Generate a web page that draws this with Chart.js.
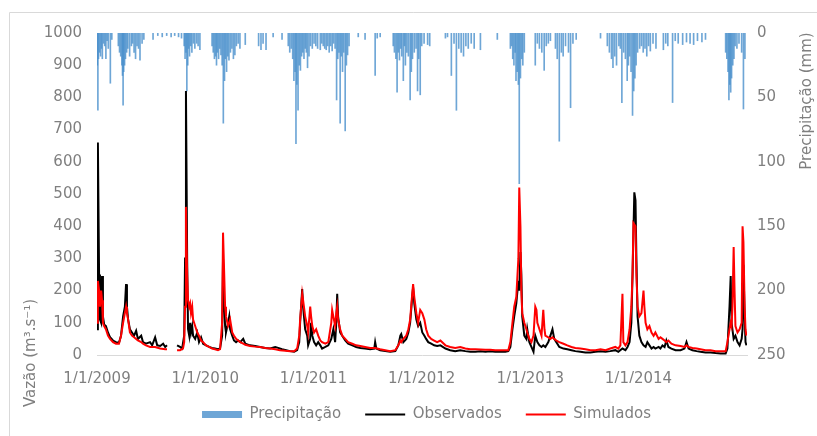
<!DOCTYPE html>
<html>
<head>
<meta charset="utf-8">
<script src="https://cdn.jsdelivr.net/npm/chart.js@4.4.1/dist/chart.umd.min.js"></script>
<style>
  html, body { margin: 0; padding: 0; background: #fff; }
  #wrap { position: relative; width: 817px; height: 436px; }
</style>
</head>
<body>
<div id="wrap"><canvas id="mycanvas" width="817" height="436"></canvas></div>
<script>
// days counted from 1/1/2009
var tickDays = [0, 365, 730, 1095, 1461, 1826];
var tickLabels = ["1/1/2009", "1/1/2010", "1/1/2011", "1/1/2012", "1/1/2013", "1/1/2014"];

var obsDays = [0,3,7,10,14,17,20,24,30,37,44,54,64,74,81,88,94,98,101,105,111,118,125,132,138,149,155,165,179,186,196,203,213,223,230,236,240,
  270,280,287,294,297,300,304,307,311,314,317,321,324,331,338,344,351,358,368,378,388,398,408,415,422,425,429,432,435,442,446,449,456,462,469,476,483,493,500,
  516,533,550,567,584,601,611,624,638,651,665,675,682,685,692,695,702,709,712,719,722,726,732,739,746,753,759,770,780,790,797,803,807,810,813,820,827,837,847,
  861,874,888,904,921,935,938,942,955,972,989,1006,1016,1023,1026,1033,1043,1050,1056,1063,1066,1070,1077,1083,1090,1097,1104,1110,1117,1127,1137,1147,1158,
  1175,1191,1208,1225,1242,1259,1276,1293,1310,1326,1343,1360,1377,1387,1394,1401,1407,1414,1421,1424,1428,1431,1434,1441,1448,1451,1458,1465,1472,1478,1485,
  1492,1499,1505,1512,1522,1529,1536,1542,1549,1559,1573,1586,1600,1613,1630,1647,1664,1681,1698,1715,1731,1748,1758,1772,1782,1789,1796,1802,1806,1812,1816,
  1819,1823,1829,1836,1843,1850,1856,1863,1870,1877,1883,1894,1900,1907,1914,1920,1927,1937,1951,1968,1981,1988,1995,2008,2022,2035,2052,2069,2086,2103,2120,
  2126,2133,2137,2140,2147,2153,2160,2167,2174,2177,2180,2184,2187,2190];
var obsFlow = [80,660,250,110,100,245,120,95,90,70,55,45,40,38,60,120,150,220,150,110,80,70,60,75,50,60,40,35,40,30,55,30,28,35,25,30,null,
  30,25,20,60,300,820,300,80,60,100,70,90,60,50,70,40,55,35,30,25,22,20,18,20,60,300,150,90,70,100,120,80,60,45,40,45,40,50,35,
  30,28,25,22,20,25,22,18,15,12,10,15,40,100,205,150,80,60,30,50,100,60,40,30,40,30,20,25,30,50,80,40,100,190,120,70,60,45,35,
  30,25,22,20,18,20,40,20,15,12,10,12,30,60,65,40,50,70,100,180,210,160,110,90,100,70,60,50,40,35,30,28,30,
  20,15,12,15,12,10,10,12,10,12,10,10,10,12,25,80,120,160,230,200,320,250,120,60,50,80,40,25,10,60,40,
  30,25,30,25,40,60,80,50,40,25,20,18,15,12,10,8,8,10,12,10,12,15,10,20,15,25,40,100,250,505,480,
  300,120,60,40,30,25,40,30,20,25,20,25,20,30,25,45,25,20,15,15,20,40,20,15,12,10,8,8,6,5,5,
  20,150,245,100,50,60,40,30,50,80,280,120,40,30];

var simDays = [0,3,7,10,14,17,20,24,30,37,44,54,64,74,81,88,94,98,101,105,111,118,125,132,138,149,155,165,179,196,213,230,236,240,
  270,280,290,294,297,300,304,307,311,314,317,321,324,331,338,344,351,358,368,378,388,398,408,415,422,425,429,432,435,442,446,449,456,462,469,476,483,493,500,
  516,533,550,567,584,601,617,635,651,665,675,682,685,692,695,702,709,712,719,722,726,732,739,746,753,759,770,780,790,793,797,803,807,810,813,820,827,837,847,
  861,874,888,904,921,938,955,972,989,1006,1016,1023,1026,1033,1043,1050,1056,1063,1066,1070,1077,1083,1090,1097,1104,1110,1117,1127,1137,1147,1158,
  1175,1191,1208,1225,1242,1259,1276,1293,1310,1326,1343,1360,1377,1387,1394,1401,1407,1414,1421,1424,1428,1431,1434,1441,1448,1451,1458,1465,1472,1478,1482,
  1485,1492,1499,1505,1509,1512,1522,1529,1536,1542,1549,1559,1573,1586,1600,1613,1630,1647,1664,1681,1698,1715,1731,1748,1758,1765,1772,1775,1782,1789,1796,
  1802,1806,1809,1816,1819,1823,1829,1836,1843,1846,1850,1856,1863,1870,1877,1883,1894,1900,1907,1914,1920,1927,1937,1951,1968,1981,1988,1995,2008,2022,2035,
  2052,2069,2086,2103,2120,2126,2133,2137,2140,2143,2147,2150,2153,2160,2167,2174,2177,2180,2184,2187,2190];
var simFlow = [100,230,200,150,200,170,100,90,80,60,50,40,35,35,60,100,130,150,130,110,70,60,55,50,45,40,35,30,25,25,20,18,18,null,
  15,15,20,40,150,460,250,170,150,160,130,150,110,90,70,60,45,40,30,25,20,18,15,18,100,380,250,150,120,90,100,110,70,60,50,45,40,35,32,
  28,26,25,22,20,18,15,13,12,12,20,60,110,190,170,120,90,70,150,120,90,70,80,60,45,40,35,40,100,140,120,90,130,150,110,80,60,50,40,
  35,30,28,25,22,22,18,15,12,15,30,45,40,50,60,80,110,190,220,180,130,100,140,130,110,80,60,50,45,40,45,
  30,25,22,25,20,18,18,17,16,16,15,15,15,15,40,100,150,180,300,520,400,200,130,100,80,70,50,40,60,150,140,
  100,80,60,140,80,60,55,50,55,50,45,40,35,30,25,22,20,18,15,15,18,15,20,25,20,30,190,40,30,40,80,
  150,250,410,400,250,150,120,130,200,150,100,80,90,70,60,70,50,55,50,45,40,45,35,30,28,25,30,25,22,20,18,
  15,15,12,12,12,40,80,100,90,150,335,200,90,70,80,100,400,350,150,80,60];

var precipDays = [1,3,5,8,12,15,18,22,26,30,34,38,45,50,
  72,76,80,84,86,88,90,93,96,100,104,110,116,120,125,130,135,140,145,152,158,
  189,205,220,235,250,262,275,285,
  294,297,300,303,306,309,312,316,320,325,330,336,341,347,
  388,392,396,400,403,406,410,414,418,422,426,430,433,437,441,445,450,455,460,465,470,476,482,
  500,545,553,560,570,594,624,
  645,650,655,660,664,668,671,674,678,682,686,690,694,698,702,706,710,715,720,726,732,738,744,
  753,758,763,768,773,778,783,788,793,798,803,808,812,816,820,824,828,832,837,841,845,850,
  881,904,938,945,955,
  999,1003,1008,1012,1016,1020,1024,1028,1033,1037,1040,1045,1050,1056,1060,1064,1070,1076,1081,1085,1090,1095,1103,1115,1122,
  1175,1182,1195,1204,1212,1220,1228,1236,1244,1252,1262,1272,1293,1350,
  1394,1398,1402,1406,1410,1413,1417,1421,1424,1428,1432,1436,1441,
  1478,1485,1492,1500,1508,1515,1522,1529,
  1546,1552,1559,1566,1572,1580,1590,1597,1605,1616,1698,
  1721,1728,1735,1740,1746,1752,1760,1765,1770,1776,1782,1788,1792,1796,1801,1806,1810,1814,1818,1823,1830,1836,1842,1848,1854,1860,1866,1875,1885,
  1910,1918,1925,1941,1950,1960,1975,1988,2000,2012,2025,2040,2052,
  2120,2124,2128,2131,2134,2137,2140,2144,2148,2152,2158,2165,2174,2180,2185];
var precipMm = [25,60,20,15,18,12,20,8,10,20,6,12,39,5,
  10,15,18,25,33,56,30,25,20,15,12,18,10,8,15,20,10,12,21,8,5,
  5,2,3,2,3,2,3,4,
  10,20,15,45,25,12,18,10,15,8,12,8,10,13,
  10,15,20,18,25,15,20,12,17,25,70,37,20,30,18,21,15,12,20,17,10,8,12,
  9,10,13,8,13,3,5,
  10,15,12,20,37,30,86,40,60,25,29,18,15,20,12,15,27,18,10,12,8,10,12,
  13,8,10,12,13,10,15,10,14,8,12,52,20,15,70,18,30,15,76,25,17,10,
  3,5,33,4,3,
  10,15,20,46,15,21,12,18,37,10,25,15,18,52,30,20,15,12,45,20,48,10,8,9,10,
  4,3,33,8,60,12,15,18,10,12,8,12,13,5,
  12,10,20,25,15,37,30,40,117,35,20,25,15,
  25,8,12,15,29,10,8,6,
  12,20,84,15,18,10,15,58,8,5,4,
  10,15,20,27,18,25,10,12,54,15,20,37,25,18,30,64,45,35,25,15,12,10,15,12,18,10,14,8,12,
  13,8,10,54,6,8,9,7,8,9,6,7,5,
  15,20,30,52,40,46,35,25,20,10,12,8,15,59,20];

var textGray = "#7f7f7f";
var fontFam = "'DejaVu Sans', sans-serif";

function pairs(xs, ys) {
  return xs.map(function(x, i) { return { x: x, y: ys[i] }; });
}

// frame lines, the two axis titles and a small nudge of the legend
var extras = {
  id: "extras",
  afterLayout: function(chart) {
    chart.legend.left += 36;
  },
  beforeDraw: function(chart) {
    var c = chart.ctx;
    c.save();
    c.strokeStyle = "#d9d9d9";
    c.lineWidth = 1;
    c.beginPath();
    c.moveTo(9.5, chart.height);
    c.lineTo(9.5, 12.5);
    c.lineTo(chart.width, 12.5);
    c.stroke();
    c.restore();
  },
  afterDraw: function(chart) {
    var c = chart.ctx;
    c.save();
    c.fillStyle = textGray;
    c.font = "15px " + fontFam;
    c.textAlign = "center";
    c.textBaseline = "middle";
    c.translate(31, 353);
    c.rotate(-Math.PI / 2);
    c.fillText("Vaz\u00e3o (m\u00b3.s\u207b\u00b9)", 0, 0);
    c.restore();
    c.save();
    c.fillStyle = textGray;
    c.font = "15px " + fontFam;
    c.textAlign = "center";
    c.textBaseline = "middle";
    c.translate(807, 101);
    c.rotate(-Math.PI / 2);
    c.fillText("Precipita\u00e7\u00e3o (mm)", 0, 0);
    c.restore();
  }
};

var ctx = document.getElementById("mycanvas");

var chart = new Chart(ctx, {
  type: "line",
  data: {
    datasets: [
      {
        type: "bar",
        label: "Precipita\u00e7\u00e3o",
        yAxisID: "y1",
        data: pairs(precipDays, precipMm),
        backgroundColor: "rgba(74, 144, 204, 0.8)",
        barThickness: 1,
        pointStyle: "rect",
        order: 3
      },
      {
        label: "Observados",
        yAxisID: "y",
        data: pairs(obsDays, obsFlow),
        borderColor: "#000000",
        backgroundColor: "#000000",
        borderWidth: 2,
        pointRadius: 0,
        pointBorderWidth: 2,
        pointStyle: "line",
        tension: 0,
        spanGaps: false,
        order: 2
      },
      {
        label: "Simulados",
        yAxisID: "y",
        data: pairs(simDays, simFlow),
        borderColor: "#ff0000",
        backgroundColor: "#ff0000",
        borderWidth: 2,
        pointRadius: 0,
        pointBorderWidth: 2,
        pointStyle: "line",
        tension: 0,
        spanGaps: false,
        order: 1
      }
    ]
  },
  options: {
    responsive: false,
    animation: false,
    layout: { padding: { top: 33, left: 0, right: 0, bottom: 4 } },
    plugins: {
      tooltip: { enabled: false },
      legend: {
        position: "bottom",
        labels: {
          usePointStyle: true,
          pointStyleWidth: 40,
          boxHeight: 7,
          padding: 24,
          color: textGray,
          font: { family: fontFam, size: 15 },
          sort: function(a, b) { return a.datasetIndex - b.datasetIndex; }
        }
      }
    },
    scales: {
      x: {
        type: "linear",
        offset: false,
        min: 0,
        max: 2192,
        grid: { display: false, drawTicks: false, offset: false },
        border: { display: true, color: "#d9d9d9" },
        afterBuildTicks: function(scale) {
          scale.ticks = tickDays.map(function(d) { return { value: d }; });
        },
        afterFit: function(scale) { scale.height = 28; },
        ticks: {
          autoSkip: false,
          maxRotation: 0,
          padding: 15,
          color: textGray,
          font: { family: fontFam, size: 15 },
          callback: function(value) {
            var i = tickDays.indexOf(value);
            return i >= 0 ? tickLabels[i] : "";
          }
        }
      },
      y: {
        position: "left",
        min: 0,
        max: 1000,
        grid: { display: false, drawTicks: false },
        border: { display: false },
        afterFit: function(scale) { scale.width = 97; },
        ticks: {
          stepSize: 100,
          padding: 15,
          color: textGray,
          font: { family: fontFam, size: 15 },
          callback: function(value) { return String(value); }
        }
      },
      y1: {
        position: "right",
        reverse: true,
        min: 0,
        max: 250,
        grid: { display: false, drawTicks: false },
        border: { display: false },
        afterFit: function(scale) { scale.width = 70; },
        ticks: {
          stepSize: 50,
          padding: 10,
          color: textGray,
          font: { family: fontFam, size: 15 },
          callback: function(value) { return String(value); }
        }
      }
    }
  },
  plugins: [extras]
});
</script>
</body>
</html>
